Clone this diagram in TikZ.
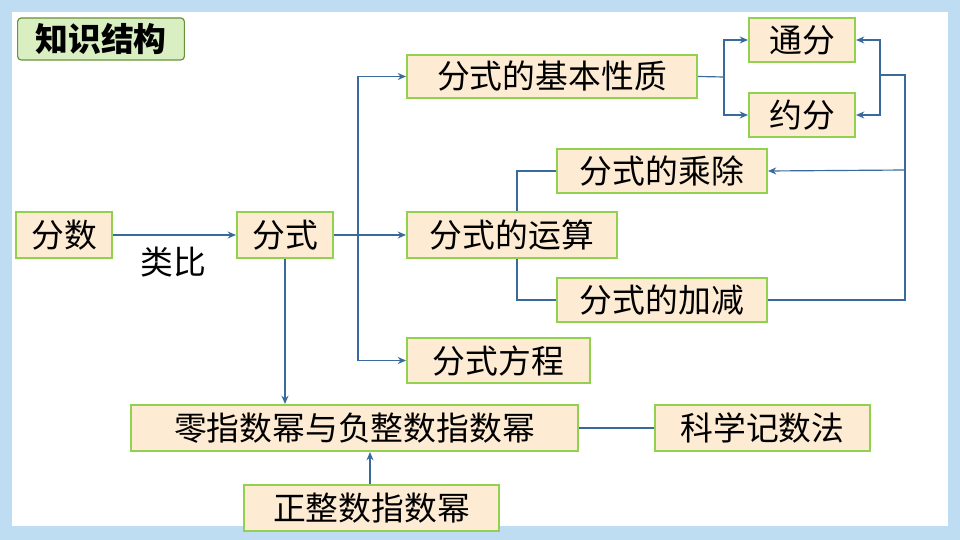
\documentclass[tikz,border=0pt]{standalone}
\usepackage{fontspec}
\newfontfamily\cjk{Noto Sans CJK SC}
\usetikzlibrary{arrows.meta}
\definecolor{sky}{HTML}{BFDDF2}
\definecolor{boxfill}{HTML}{FDEBD3}
\definecolor{boxline}{HTML}{92D050}
\definecolor{ln}{HTML}{3A6A9C}
\pgfdeclarelayer{bg}
\pgfsetlayers{bg,main}
\begin{document}
\begin{tikzpicture}[x=0.03cm,y=-0.03cm,
 bx/.style={draw=boxline,line width=1.8pt,fill=boxfill,font=\cjk\fontsize{28}{30}\selectfont,inner sep=0pt},
 con/.style={draw=ln,line width=1pt},
 arr/.style={con,-{Stealth[length=7pt,width=6pt]}}]
\path[use as bounding box] (0,0) rectangle (960,540);
\newcommand\bxat[5]{\node[bx,minimum width={(#3-#2)*0.03cm},minimum height={(#5-#4)*0.03cm}] (#1) at ({(#2+#3)/2},{(#4+#5)/2})}
\node[draw=boxline!70!black,line width=1pt,fill=boxline!35,rounded corners=3pt,minimum width=5cm,minimum height=1.26cm,font=\cjk\bfseries\fontsize{28}{30}\selectfont,inner sep=0pt] (title) at (101,39) {知识结构};
\bxat{fs}{16}{112}{212}{258}{分数};
\bxat{fsh}{237}{333}{212}{258}{分式};
\node[font=\cjk\fontsize{28}{30}\selectfont] (lb) at (173,262) {类比};
\bxat{jb}{407}{697}{55}{98}{分式的基本性质};
\bxat{tf}{749}{855}{18}{62}{通分};
\bxat{yf}{749}{855}{93}{137}{约分};
\bxat{cc}{557}{767}{149}{193}{分式的乘除};
\bxat{ys}{407}{617}{212}{258}{分式的运算};
\bxat{jj}{557}{767}{278}{322}{分式的加减};
\bxat{fc}{407}{590}{338}{383}{分式方程};
\bxat{lz}{131}{578}{405}{451}{零指数幂与负整数指数幂};
\bxat{kx}{655}{870}{405}{451}{科学记数法};
\bxat{zz}{244}{499}{485}{531}{正整数指数幂};
\begin{pgfonlayer}{bg}
\fill[sky] (0,0) rectangle (960,540);
\fill[white] (12,12) rectangle (948,526);
\coordinate (b3) at (517,258);
\draw[con] (b3) |- (cc);
\draw[con] (b3) |- (jj);
\end{pgfonlayer}
\coordinate (b1) at (358,235);
\draw[arr] (fs) -- (fsh);
\draw[arr] (fsh) -- (ys);
\draw[arr] (b1) |- (jb);
\draw[arr] (b1) |- (fc);
\coordinate (b2) at (724,77);
\draw[con] (jb.east) -- (b2);
\draw[arr] (b2) |- (tf);
\draw[arr] (b2) |- (yf);
\coordinate (r1) at (905,300);
\coordinate (r2) at (905,75);
\coordinate (r3) at (880,75);
\draw[con] (jj.east) -- (r1) -- (r2) -- (r3);
\draw[arr] (r3) |- (tf);
\draw[arr] (r3) |- (yf);
\coordinate (r4) at (905,170);
\draw[arr] (r4) -- (cc.east);
\draw[arr] (fsh.south) -- (lz.north -| fsh.south);
\draw[arr] (zz.north -| 370,0) -- (lz.south -| 370,0);
\draw[con] (lz) -- (kx);
\end{tikzpicture}
\end{document}
